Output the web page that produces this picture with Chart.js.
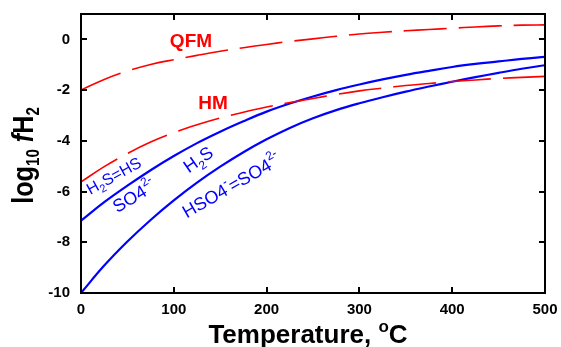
<!DOCTYPE html>
<html><head><meta charset="utf-8">
<script src="https://cdn.jsdelivr.net/npm/chart.js@4.4.0/dist/chart.umd.min.js"></script>
<style>html,body{margin:0;padding:0;background:#fff}#wrap{width:561px;height:347px;position:relative}</style>
</head><body><div id="wrap"><canvas id="c"></canvas></div>
<script>
// ---- data ----
const temperatures = [0, 25, 50, 75, 100, 125, 150, 175, 200, 225, 250, 275, 300, 325, 350, 375, 400, 425, 450, 475, 500];
const qfmBuffer = [-2.0, -1.58, -1.25, -0.99, -0.8, -0.63, -0.47, -0.33, -0.2, -0.08, 0.02, 0.12, 0.21, 0.28, 0.34, 0.39, 0.44, 0.49, 0.53, 0.56, 0.57];
const hmBuffer  = [-5.62, -5.02, -4.5, -4.05, -3.68, -3.37, -3.1, -2.87, -2.67, -2.49, -2.33, -2.17, -2.03, -1.92, -1.82, -1.74, -1.66, -1.6, -1.54, -1.5, -1.46];
const h2sSo4    = [-7.15, -6.42, -5.77, -5.16, -4.6, -4.09, -3.64, -3.23, -2.85, -2.53, -2.25, -2.0, -1.78, -1.58, -1.4, -1.24, -1.09, -0.97, -0.87, -0.77, -0.69];
const hso4So4   = [-10, -8.92, -7.97, -7.12, -6.35, -5.65, -5.02, -4.45, -3.94, -3.49, -3.11, -2.79, -2.52, -2.28, -2.06, -1.86, -1.67, -1.49, -1.32, -1.16, -1.02];
const xTickLabels = [0, 100, 200, 300, 400, 500];
const yTickLabels = [-10, -8, -6, -4, -2, 0];

const pts = (vals) => temperatures.map((t, i) => ({x: t, y: vals[i]}));

const FONT = '"Liberation Sans", Arial, sans-serif';
const B = s => 'bold ' + s + 'px ' + FONT;
const N = s => s + 'px ' + FONT;

// text labels placed in data coordinates
const labels = [
  {at: [118.5, -0.29], angle: 0, align: 'center', color: '#ff0000', parts: [{t: 'QFM', f: B(19)}]},
  {at: [142.3, -2.75], angle: 0, align: 'center', color: '#ff0000', parts: [{t: 'HM', f: B(19)}]},
  {at: [10, -6.14], angle: -29, align: 'left', color: '#0000ff',
   parts: [{t: 'H', f: N(16)}, {t: '2', f: N(11), dy: 4}, {t: 'S=HS', f: N(16)}]},
  {at: [39, -6.86], angle: -31, align: 'left', color: '#0000ff',
   parts: [{t: 'SO4', f: N(18)}, {t: '2-', f: N(12), dy: -9}]},
  {at: [116, -5.29], angle: -35, align: 'left', color: '#0000ff',
   parts: [{t: 'H', f: N(18)}, {t: '2', f: N(12), dy: 5}, {t: 'S', f: N(18)}]},
  {at: [114, -7.06], angle: -30, align: 'left', color: '#0000ff',
   parts: [{t: 'HSO4', f: N(18)}, {t: '-', f: N(12), dy: -9}, {t: '=SO4', f: N(18)}, {t: '2-', f: N(12), dy: -9}]}
];

function richWidth(ctx, parts) {
  let w = 0;
  for (const p of parts) { ctx.font = p.f; w += ctx.measureText(p.t).width; }
  return w;
}
function drawRich(ctx, parts, x, y, angle, align, color, sx) {
  ctx.save();
  ctx.translate(x, y);
  ctx.rotate(angle * Math.PI / 180);
  if (sx) ctx.scale(sx, 1);
  ctx.fillStyle = color;
  ctx.textBaseline = 'alphabetic';
  ctx.textAlign = 'left';
  let cx = align === 'center' ? -richWidth(ctx, parts) / 2 : 0;
  for (const p of parts) {
    ctx.font = p.f;
    ctx.fillText(p.t, cx, p.dy || 0);
    cx += ctx.measureText(p.t).width;
  }
  ctx.restore();
}

const decor = {
  id: 'decor',
  afterDatasetsDraw(chart) {
    const {ctx, chartArea: a, scales: {x, y}} = chart;
    ctx.save();
    ctx.strokeStyle = '#000';
    ctx.lineWidth = 2;
    ctx.strokeRect(a.left, a.top, a.right - a.left, a.bottom - a.top);
    const tl = 6;
    ctx.beginPath();
    for (const v of xTickLabels) {
      const px = Math.round(x.getPixelForValue(v));
      ctx.moveTo(px, a.bottom); ctx.lineTo(px, a.bottom - tl);
      ctx.moveTo(px, a.top); ctx.lineTo(px, a.top + tl);
    }
    for (const v of yTickLabels) {
      const py = Math.round(y.getPixelForValue(v));
      ctx.moveTo(a.left, py); ctx.lineTo(a.left + tl, py);
      ctx.moveTo(a.right, py); ctx.lineTo(a.right - tl, py);
    }
    ctx.stroke();
    ctx.restore();

    for (const l of labels) {
      drawRich(ctx, l.parts, x.getPixelForValue(l.at[0]), y.getPixelForValue(l.at[1]), l.angle, l.align, l.color);
    }
    // axis titles
    drawRich(ctx, [{t: 'Temperature, ', f: B(26)}, {t: 'o', f: B(17), dy: -11}, {t: 'C', f: B(26)}],
      (a.left + a.right) / 2 - 5, 342.5, 0, 'center', '#000');
    drawRich(ctx, [{t: 'log', f: B(30)}, {t: '10', f: B(18), dy: 6}, {t: ' ', f: B(30)},
      {t: 'f', f: 'italic ' + B(30)}, {t: 'H', f: B(30)}, {t: '2', f: B(18), dy: 6}],
      33, (a.top + a.bottom) / 2 + 2, -90, 'center', '#000', 0.84);
  }
};

const lineDs = (label, vals, color, width, dash) => ({
  label, data: pts(vals), borderColor: color, borderWidth: width, borderDash: dash,
  pointRadius: 0, fill: false, tension: 0.4
});

const zeroPad = s => { s.paddingTop = 0; s.paddingBottom = 0; s.paddingLeft = 0; s.paddingRight = 0; };

new Chart(document.getElementById('c'), {
  type: 'line',
  data: {
    datasets: [
      lineDs('QFM', qfmBuffer, '#ff0000', 1.6, [43, 12]),
      lineDs('HM', hmBuffer, '#ff0000', 1.6, [43, 12]),
      lineDs('H2S=SO4', h2sSo4, '#0000ff', 2.2, []),
      lineDs('HSO4=SO4', hso4So4, '#0000ff', 2.2, [])
    ]
  },
  options: {
    responsive: true, maintainAspectRatio: false, animation: false,
    layout: {padding: {top: 14, right: 16, left: 0, bottom: 0}},
    plugins: {legend: {display: false}, tooltip: {enabled: false}},
    scales: {
      x: {
        type: 'linear', min: 0, max: 500,
        grid: {display: false, drawTicks: false}, border: {display: false},
        afterFit: s => { s.height = 54; zeroPad(s); },
        afterBuildTicks: s => { s.ticks = xTickLabels.map(v => ({value: v})); },
        ticks: {font: {family: FONT, size: 15, weight: 'bold'}, color: '#000', padding: 8, maxRotation: 0}
      },
      y: {
        type: 'linear', min: -10, max: 1,
        grid: {display: false, drawTicks: false}, border: {display: false},
        afterFit: s => { s.width = 81; zeroPad(s); },
        afterBuildTicks: s => { s.ticks = yTickLabels.map(v => ({value: v})); },
        ticks: {font: {family: FONT, size: 15, weight: 'bold'}, color: '#000', padding: 11}
      }
    }
  },
  plugins: [decor]
});
</script>
</body></html>
